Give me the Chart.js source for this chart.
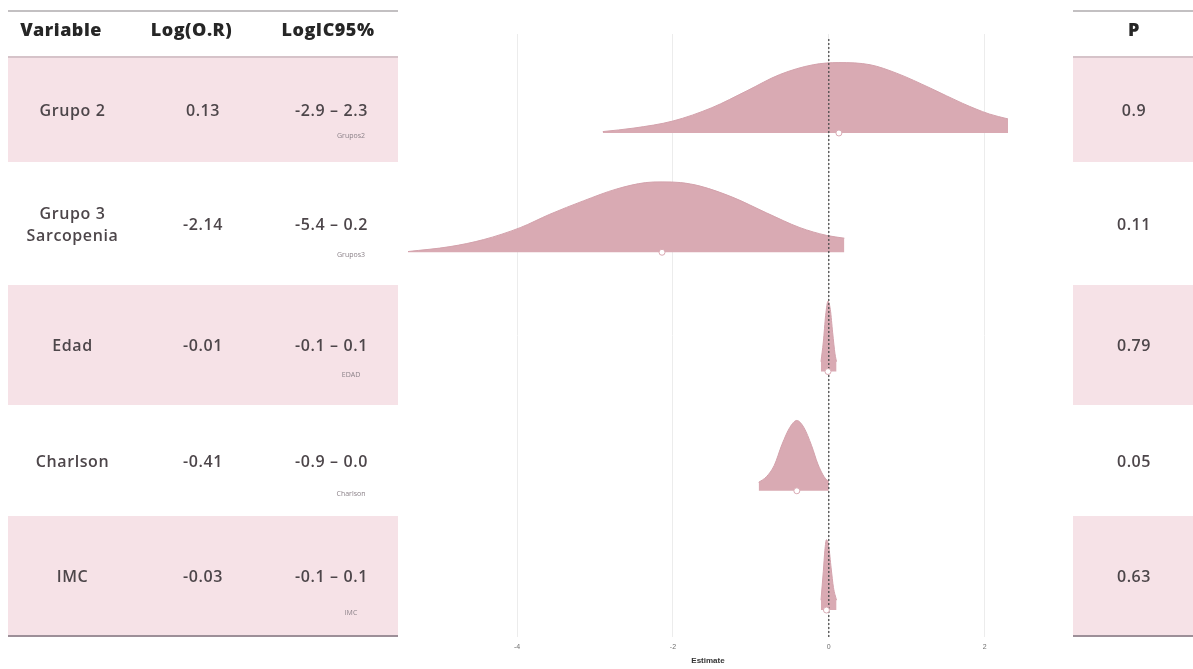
<!DOCTYPE html>
<html>
<head>
<meta charset="utf-8">
<script src="https://cdn.jsdelivr.net/npm/chart.js@4.4.1/dist/chart.umd.min.js"></script>
<style>
  html, body { margin: 0; padding: 0; background: #fff; width: 1193px; height: 669px; overflow: hidden; }
  #wrap { position: relative; width: 1193px; height: 669px; font-family: "Open Sans", "DejaVu Sans", sans-serif; }
  #c { position: absolute; left: 0; top: 0; z-index: 1; }
  .band { position: absolute; background: #f6e2e7; z-index: 0; }
  .rule { position: absolute; height: 2px; z-index: 0; }
  .t { position: absolute; transform: translate(-50%, -50%); white-space: pre-line; text-align: center;
       color: #4d464a; font-size: 16px; font-weight: 600; letter-spacing: 0.6px; line-height: 22px; z-index: 2; }
  .h { color: #262626; font-weight: 800; font-size: 18px; letter-spacing: 0.5px; }
  .s { font-size: 7px; font-weight: 400; color: #8b8188; letter-spacing: 0; line-height: 9px; }
</style>
</head>
<body>
<div id="wrap">
  <canvas id="c" width="1193" height="669"></canvas>
</div>
<script>
// Model terms, estimates (log odds ratio), 95% CI and p-values
const variables = ["Grupo 2", "Grupo 3\nSarcopenia", "Edad", "Charlson", "IMC"];
const terms     = ["Grupos2", "Grupos3", "EDAD", "Charlson", "IMC"];
const logOR     = [0.13, -2.14, -0.01, -0.41, -0.03];
const ciLow     = [-2.9, -5.4, -0.1, -0.9, -0.1];
const ciHigh    = [2.3, 0.2, 0.1, 0.0, 0.1];
const pValues   = [0.9, 0.11, 0.79, 0.05, 0.63];
const xTicks    = [-4, -2, 0, 2];

// Ridge profiles: estimate grid (log OR) and relative density height
const grupo2X   = [-2.9, -2.5, -2.0, -1.5, -1.05, -0.63, -0.2, 0.13, 0.53, 0.87, 1.3, 1.72, 2.06, 2.3];
const grupo2H   = [0.02, 0.07, 0.17, 0.36, 0.60, 0.83, 0.97, 1.00, 0.97, 0.85, 0.64, 0.42, 0.27, 0.20];
const grupo3X   = [-5.4, -4.86, -4.43, -3.96, -3.58, -3.15, -2.72, -2.35, -2.14, -1.9, -1.65, -1.23, -0.8, -0.37, -0.03, 0.2];
const grupo3H   = [0.01, 0.08, 0.18, 0.35, 0.54, 0.73, 0.90, 0.99, 1.00, 0.99, 0.94, 0.78, 0.56, 0.35, 0.24, 0.20];
const edadX     = [-0.1, -0.07, -0.04, -0.01, 0.02, 0.05, 0.08, 0.1];
const edadH     = [0.14, 0.42, 0.80, 1.00, 0.88, 0.55, 0.25, 0.14];
const charlsonX = [-0.9, -0.8, -0.7, -0.6, -0.5, -0.41, -0.32, -0.22, -0.14, -0.06, 0.0];
const charlsonH = [0.12, 0.20, 0.36, 0.66, 0.90, 1.00, 0.90, 0.64, 0.38, 0.20, 0.13];
const imcX      = [-0.1, -0.07, -0.05, -0.03, 0.0, 0.03, 0.06, 0.1];
const imcH      = [0.14, 0.55, 0.85, 1.00, 0.90, 0.60, 0.32, 0.14];

const ridges = [[grupo2X, grupo2H], [grupo3X, grupo3H], [edadX, edadH], [charlsonX, charlsonH], [imcX, imcH]];

// Layout of the side tables
const W = 1193, H = 669;
const rowEdges = [57, 162, 285, 405, 516, 636];
const leftTable = { x0: 8, x1: 398, cols: [72.5, 203, 331.5], headCols: [61, 191.5, 328] };
const rightTable = { x0: 1073, x1: 1193, col: 1134 };
const headerY = 29;

const RIDGE_SCALE = 0.59;
const FILL = '#d9aab3';
const EDGE = '#d3a2ac';

const n = variables.length;
const base = i => n - 1 - i;

const lo = Math.min(...ciLow), hi = Math.max(...ciHigh);
const pad = 0.05 * (hi - lo);
const xMin = lo - pad, xMax = hi + pad;
const yMin = -0.226, yMax = 4.797;

const wrap = document.getElementById('wrap');
function add(cls, text, x, y) {
  const d = document.createElement('div');
  d.className = cls;
  d.textContent = text;
  d.style.left = x + 'px';
  d.style.top = y + 'px';
  wrap.appendChild(d);
  return d;
}
function box(cls, x, y, w, h, color) {
  const d = document.createElement('div');
  d.className = cls;
  d.style.left = x + 'px'; d.style.top = y + 'px';
  d.style.width = w + 'px'; d.style.height = h + 'px';
  if (color) d.style.background = color;
  wrap.appendChild(d);
}

// Striped rows and rules for both tables
[leftTable, rightTable].forEach(tb => {
  const w = tb.x1 - tb.x0;
  for (let i = 0; i < n; i += 2) box('band', tb.x0, rowEdges[i], w, rowEdges[i + 1] - rowEdges[i]);
  box('rule', tb.x0, 10, w, 2, '#c3c0c2');
  box('rule', tb.x0, rowEdges[0] - 1, w, 2, '#d6c3c9');
  box('rule', tb.x0, rowEdges[n] - 1, w, 2, '#9d8f98');
});

// Header texts
['Variable', 'Log(O.R)', 'LogIC95%'].forEach((h, j) => add('t h', h, leftTable.headCols[j], headerY));
add('t h', 'P', rightTable.col, headerY);

// Row texts
variables.forEach((v, i) => {
  const y = (rowEdges[i] + rowEdges[i + 1]) / 2;
  add('t', v, leftTable.cols[0], y);
  add('t', logOR[i].toFixed(2), leftTable.cols[1], y);
  add('t', ciLow[i].toFixed(1) + ' \u2013 ' + ciHigh[i].toFixed(1), leftTable.cols[2], y);
  add('t', String(pValues[i]), rightTable.col, y);
});

const ridgeSets = ridges.map(([xs, hs], i) => ({
  type: 'line',
  order: 3,
  data: xs.map((x, k) => ({ x: x, y: base(i) + hs[k] * RIDGE_SCALE })),
  fill: { value: base(i) },
  backgroundColor: FILL,
  borderColor: EDGE,
  borderWidth: 1,
  pointRadius: 0,
  cubicInterpolationMode: 'monotone'
}));

const zeroLine = {
  type: 'line',
  order: 1,
  data: [{ x: 0, y: yMin }, { x: 0, y: yMax }],
  borderColor: '#4d4d4d',
  borderWidth: 1.3,
  borderDash: [2, 2],
  pointRadius: 0,
  fill: false
};

const pointSet = {
  type: 'scatter',
  order: 0,
  data: logOR.map((v, i) => ({ x: v, y: base(i) })),
  pointRadius: 3,
  pointBackgroundColor: '#ffffff',
  pointBorderColor: '#d9aab3',
  pointBorderWidth: 1
};

const chart = new Chart(document.getElementById('c'), {
  type: 'line',
  data: { datasets: [...ridgeSets, zeroLine, pointSet] },
  options: {
    responsive: false,
    animation: false,
    devicePixelRatio: 1,
    layout: { padding: { left: 378, right: W - 1038, top: 34, bottom: 0 } },
    plugins: { legend: { display: false }, tooltip: { enabled: false } },
    scales: {
      x: {
        type: 'linear',
        min: xMin,
        max: xMax,
        afterBuildTicks: s => { s.ticks = xTicks.map(v => ({ value: v })); },
        afterFit: s => { s.height = 32; },
        grid: { color: '#ececec', lineWidth: 1, drawTicks: false },
        border: { display: false },
        ticks: { font: { family: 'Liberation Sans', size: 7 }, color: '#707070', padding: 6 },
        title: { display: true, text: 'Estimate', font: { family: 'Liberation Sans', size: 8, weight: 'bold' },
                 color: '#333', padding: { top: 0, bottom: 3 } }
      },
      y: { type: 'linear', display: false, min: -0.226, max: 4.83 }
    }
  }
});

// Term labels sit on each ridge baseline
terms.forEach((t, i) => {
  const y = chart.scales.y.getPixelForValue(base(i)) + 2;
  add('t s', t, 351, y);
});
</script>
</body>
</html>
